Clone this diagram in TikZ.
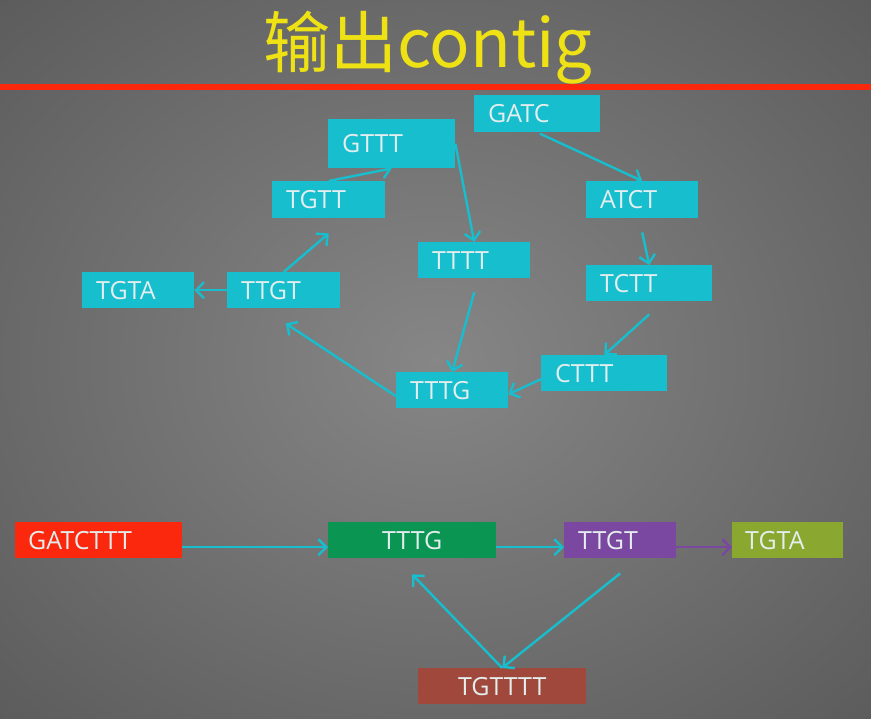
\documentclass[tikz,border=0pt]{standalone}
\usepackage{fontspec}
\setmainfont{Open Sans}
\newfontfamily\cjk{Noto Sans CJK SC}
\usetikzlibrary{arrows.meta}

\definecolor{bgin}{RGB}{134,134,134}
\definecolor{bgout}{RGB}{50,50,50}
\definecolor{kcyan}{RGB}{22,190,206}
\definecolor{ktext}{RGB}{228,238,238}
\definecolor{kyellow}{RGB}{238,226,20}
\definecolor{kred}{RGB}{252,40,14}
\definecolor{kgreen}{RGB}{10,150,82}
\definecolor{kpurple}{RGB}{122,72,160}
\definecolor{kolive}{RGB}{138,168,48}
\definecolor{kbrown}{RGB}{160,72,60}
\pgfdeclareradialshading[bgin,bgout]{bgglow}{\pgfpoint{0bp}{0bp}}{color(0bp)=(bgin); color(50bp)=(bgout)}

\tikzset{
  kmer/.style={fill=kcyan, text=ktext, font=\fontsize{25}{29}\selectfont,
    anchor=north west, inner xsep=14pt, inner ysep=0pt, align=left},
  link/.style={draw=kcyan, line width=2.4pt,
    -{Straight Barb[length=8pt,width=16pt]}}
}

\begin{document}
\begin{tikzpicture}[x=1pt,y=-1pt]
  \useasboundingbox (0,0) rectangle (871,719);
  % Background.
  \begin{scope}
    \clip (0,0) rectangle (871,719);
    \shade[shading=bgglow] (-180,-150) rectangle (1050,870);
  \end{scope}

  % Title and rule.
  \node[text=kyellow, font=\cjk\fontsize{67}{77}\selectfont, anchor=base] (title) at (428,68) {输出contig};
  \fill[kred] (0,84) rectangle (871,90);

  % de Bruijn graph
  \node[kmer, text width=98pt, minimum height=37pt] (gatc) at (474,95) {\raisebox{-1pt}{GATC}};
  \node[kmer, text width=99pt, minimum height=49pt] (gttt) at (328,119) {\raisebox{-5pt}{GTTT}};
  \node[kmer, text width=85pt, minimum height=37pt] (tgtt) at (272,181) {\raisebox{-1pt}{TGTT}};
  \node[kmer, text width=84pt, minimum height=37pt] (atct) at (586,181) {\raisebox{-1pt}{ATCT}};
  \node[kmer, text width=84pt, minimum height=36pt] (tttt) at (418,242) {\raisebox{-1pt}{TTTT}};
  \node[kmer, text width=98pt, minimum height=36pt] (tctt) at (586,265) {\raisebox{-1pt}{TCTT}};
  \node[kmer, text width=84pt, minimum height=36pt] (tgta) at (82,272) {\raisebox{-1pt}{TGTA}};
  \node[kmer, text width=85pt, minimum height=36pt] (ttgt) at (227,272) {\raisebox{-1pt}{TTGT}};
  \node[kmer, text width=98pt, minimum height=36pt] (cttt) at (541,355) {\raisebox{-1pt}{CTTT}};
  \node[kmer, text width=84pt, minimum height=36pt] (tttg) at (396,372) {\raisebox{-1pt}{TTTG}};

  \draw[link, shorten <=3pt] (gatc.south) -- (atct.north);
  \draw[link] ([yshift=-14pt]atct.south) -- (tctt.north);
  \draw[link] ([yshift=-13pt]tctt.south) -- (cttt.north);
  \draw[link] ([yshift=-6pt]cttt.west) -- ([yshift=-4pt]tttg.east);
  \draw[link] (gttt.east) -- (tttt.north);
  \draw[link] ([yshift=-14pt]tttt.south) -- (tttg.north);
  \draw[link] ([yshift=-6pt]tttg.west) -- ([xshift=2pt,yshift=-15pt]ttgt.south);
  \draw[link] (ttgt.north) -- ([yshift=-15pt]tgtt.south);
  \draw[link] (ttgt.west) -- (tgta.east);
  \draw[link] (tgtt.north) -- (gttt.south);

  % Contigs
  \node[kmer, fill=kred, text width=141pt, minimum height=36pt, inner xsep=13pt] (cgatcttt) at (15,522) {GATCTTT};
  \node[kmer, fill=kgreen, text width=140pt, minimum height=36pt, align=center] (ctttg) at (328,522) {TTTG};
  \node[kmer, fill=kpurple, text width=84pt, minimum height=36pt] (cttgt) at (564,522) {TTGT};
  \node[kmer, fill=kolive, text width=85pt, minimum height=36pt, inner xsep=13pt] (ctgta) at (732,522) {TGTA};
  \node[kmer, fill=kbrown, text width=140pt, minimum height=36pt, align=center] (ctgtttt) at (418,668) {TGTTTT};

  \draw[link] ([yshift=-7pt]cgatcttt.east) -- ([yshift=-7pt]ctttg.west);
  \draw[link] ([yshift=-7pt]ctttg.east) -- ([yshift=-7pt]cttgt.west);
  \draw[link, draw=kpurple] ([yshift=-7pt]cttgt.east) -- ([yshift=-7pt]ctgta.west);
  \draw[link] ([yshift=-15pt]cttgt.south) -- (ctgtttt.north);
  \draw[link] (ctgtttt.north) -- ([yshift=-16pt]ctttg.south);
\end{tikzpicture}
\end{document}
